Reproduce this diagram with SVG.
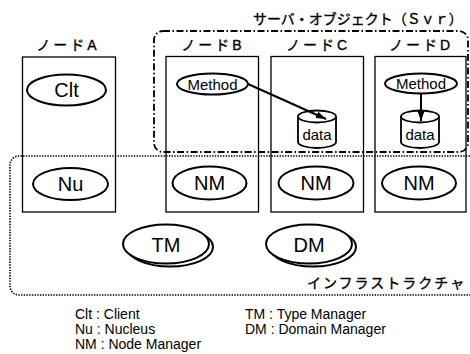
<svg xmlns="http://www.w3.org/2000/svg" width="470" height="354" viewBox="0 0 470 354">
<defs>
<marker id="ah" markerUnits="userSpaceOnUse" markerWidth="11" markerHeight="8" refX="10" refY="3.5" orient="auto">
<path d="M0,0 L10,3.5 L0,7 z" fill="#000"/>
</marker>
<style>
.box{fill:none;stroke:#000;stroke-width:1.3}
.ell{fill:#fff;stroke:#000;stroke-width:2}
.big{font-family:"Liberation Sans",Arial,sans-serif;font-size:20px;text-anchor:middle;fill:#000}
.mid{font-family:"Liberation Sans",Arial,sans-serif;font-size:15px;text-anchor:middle;fill:#000}
.jp{font-family:"Liberation Sans","Noto Sans CJK JP",sans-serif;font-size:14px;fill:#000;stroke:#000;stroke-width:0.35}
.leg{font-family:"Liberation Sans",Arial,sans-serif;font-size:14px;fill:#000}
.cyl{fill:#fff;stroke:#000;stroke-width:1.8}
.con{stroke:#000;stroke-width:2;fill:none}
</style>
</defs>
<rect width="470" height="354" fill="#fff"/>

<g id="server-group">
<rect x="154" y="31" width="314" height="121" rx="9" fill="none" stroke="#000" stroke-width="1.8" stroke-dasharray="7 2.5 1.5 2.5"/>
<text class="jp" x="253" y="24">サーバ・オブジェクト（Ｓｖｒ）</text>
</g>

<g id="infra-group">
<path d="M470,156 H19 A9,9 0 0 0 10,165 V286 A9,9 0 0 0 19,295 H470" fill="none" stroke="#000" stroke-width="1.6" stroke-dasharray="1.4 1.3"/>
<text class="jp" x="307" y="288" letter-spacing="2">インフラストラクチャ</text>
</g>

<g id="nodeA">
<rect class="box" x="22.5" y="57" width="93" height="155"/>
<text class="jp" x="68" y="50" text-anchor="middle" letter-spacing="3">ノードA</text>
<g id="clt"><ellipse class="ell" cx="66.5" cy="90" rx="39.5" ry="15.5"/><text class="big" x="66.5" y="97">Clt</text></g>
<g id="nu"><ellipse class="ell" cx="70.5" cy="184" rx="37.5" ry="16"/><text class="big" x="70.5" y="191">Nu</text></g>
</g>

<g id="nodeB">
<rect class="box" x="166" y="56.5" width="92.5" height="155.5"/>
<text class="jp" x="213" y="50" text-anchor="middle" letter-spacing="3">ノードB</text>
<g id="methodB"><ellipse class="ell" cx="212.5" cy="84" rx="35.5" ry="10.5"/><text class="mid" x="212.5" y="89.5">Method</text></g>
<g id="nmB"><ellipse class="ell" cx="209.5" cy="183" rx="37" ry="16.5"/><text class="big" x="209.5" y="190">NM</text></g>
</g>

<g id="nodeC">
<rect class="box" x="271" y="56.5" width="92.5" height="155.5"/>
<text class="jp" x="318" y="50" text-anchor="middle" letter-spacing="3">ノードC</text>
<g id="dataC">
<path class="cyl" d="M298,116.5 V142 A19,6 0 0 0 336,142 V116.5"/>
<ellipse class="cyl" cx="317" cy="116.5" rx="19" ry="6"/>
<text class="mid" x="317" y="140">data</text>
</g>
<g id="nmC"><ellipse class="ell" cx="316" cy="183" rx="37.5" ry="16.5"/><text class="big" x="316" y="190">NM</text></g>
</g>

<g id="nodeD">
<rect class="box" x="375" y="56.5" width="91" height="155.5"/>
<text class="jp" x="421" y="50" text-anchor="middle" letter-spacing="3">ノードD</text>
<g id="methodD"><ellipse class="ell" cx="421" cy="83.5" rx="36" ry="10"/><text class="mid" x="421" y="89">Method</text></g>
<g id="dataD">
<path class="cyl" d="M401,116.5 V142 A19,6 0 0 0 439,142 V116.5"/>
<ellipse class="cyl" cx="420" cy="116.5" rx="19" ry="6"/>
<text class="mid" x="420" y="140">data</text>
</g>
<g id="nmD"><ellipse class="ell" cx="419" cy="183" rx="37" ry="16.5"/><text class="big" x="419" y="190">NM</text></g>
</g>

<g id="tm">
<ellipse class="ell" cx="170" cy="247" rx="43" ry="19.5" stroke-width="1.8"/>
<ellipse class="ell" cx="166" cy="244" rx="43" ry="19.5"/>
<text class="big" x="166" y="252">TM</text>
</g>

<g id="dm">
<ellipse class="ell" cx="313" cy="247" rx="43" ry="19.5" stroke-width="1.8"/>
<ellipse class="ell" cx="309" cy="244" rx="43" ry="19.5"/>
<text class="big" x="309" y="252">DM</text>
</g>

<g id="connectors">
<line class="con" x1="248" y1="84" x2="326" y2="119" marker-end="url(#ah)"/>
<line class="con" x1="421" y1="94" x2="421" y2="121" marker-end="url(#ah)"/>
</g>

<g id="legend">
<text class="leg" x="75" y="319">Clt : Client</text>
<text class="leg" x="75" y="334">Nu : Nucleus</text>
<text class="leg" x="75" y="349">NM : Node Manager</text>
<text class="leg" x="245" y="319">TM : Type Manager</text>
<text class="leg" x="245" y="334">DM : Domain Manager</text>
</g>
</svg>
